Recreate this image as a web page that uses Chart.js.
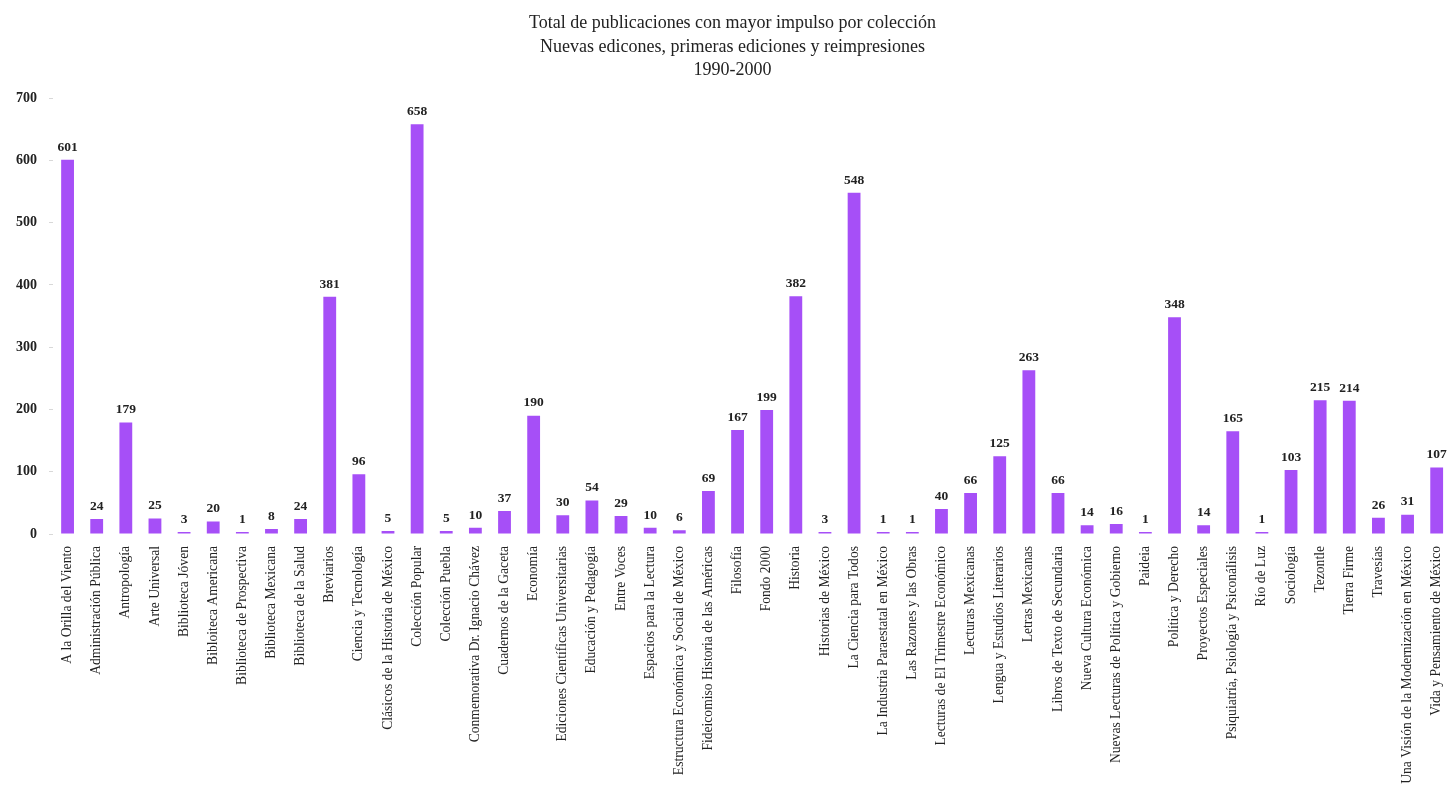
<!DOCTYPE html>
<html>
<head>
<meta charset="utf-8">
<script src="https://cdn.jsdelivr.net/npm/chart.js@4"></script>
<style>
  html, body { margin: 0; padding: 0; background: #fff; overflow: hidden; }
  #wrap { width: 1457px; height: 785px; position: relative; }
</style>
</head>
<body>
<div id="wrap"><canvas id="chart"></canvas></div>
<script>
const titleLines = [
  'Total de publicaciones con mayor impulso por colección',
  'Nuevas edicones, primeras ediciones y reimpresiones',
  '1990-2000'
];

const colecciones = [
  'A la Orilla del Viento', 'Administración Pública', 'Antropología', 'Arte Universal',
  'Biblioteca Jóven', 'Bibloiteca Americana', 'Biblioteca de Prospectiva', 'Biblioteca Mexicana',
  'Biblioteca de la Salud', 'Breviarios', 'Ciencia y Tecnología', 'Clásicos de la Historia de México',
  'Colección Popular', 'Colección Puebla', 'Conmemorativa Dr. Ignacio Chávez', 'Cuadernos de la Gaceta',
  'Economía', 'Ediciones Científicas Universitarias', 'Educación y Pedagogía', 'Entre Voces',
  'Espacios para la Lectura', 'Estructura Económica y Social de México', 'Fideicomiso Historia de las Américas', 'Filosofía',
  'Fondo 2000', 'Historia', 'Historias de México', 'La Ciencia para Todos',
  'La Industria Paraestatal en México', 'Las Razones y las Obras', 'Lecturas de El Trimestre Económico', 'Lecturas Mexicanas',
  'Lengua y Estudios Literarios', 'Letras Mexicanas', 'Libros de Texto de Secundaria', 'Nueva Cultura Económica',
  'Nuevas Lecturas de Política y Gobierno', 'Paideia', 'Política y Derecho', 'Proyectos Especiales',
  'Psiquiatría, Psiología y Psiconálisis', 'Río de Luz', 'Sociología', 'Tezontle',
  'Tierra Firme', 'Travesías', 'Una Visión de la Modernización en México', 'Vida y Pensamiento de México'
];

const publicaciones = [
  601, 24, 179, 25,
  3, 20, 1, 8,
  24, 381, 96, 5,
  658, 5, 10, 37,
  190, 30, 54, 29,
  10, 6, 69, 167,
  199, 382, 3, 548,
  1, 1, 40, 66,
  125, 263, 66, 14,
  16, 1, 348, 14,
  165, 1, 103, 215,
  214, 26, 31, 107
];

const yTicks = [0, 100, 200, 300, 400, 500, 600, 700];

const serif = "'Liberation Serif', 'DejaVu Serif', serif";
const barColor = '#a64ff7';

// numbers above each bar
const valueLabels = {
  id: 'valueLabels',
  afterDatasetsDraw(chart) {
    const ctx = chart.ctx;
    const meta = chart.getDatasetMeta(0);
    ctx.save();
    ctx.font = '600 13.5px ' + serif;
    ctx.fillStyle = '#222';
    ctx.textAlign = 'center';
    ctx.textBaseline = 'bottom';
    meta.data.forEach((bar, i) => {
      ctx.fillText(String(publicaciones[i]), bar.x, bar.y - 6);
    });
    ctx.restore();
  }
};

new Chart(document.getElementById('chart'), {
  type: 'bar',
  data: {
    labels: colecciones,
    datasets: [{
      data: publicaciones,
      backgroundColor: barColor,
      borderWidth: 0,
      barPercentage: 0.44,
      categoryPercentage: 1,
      minBarLength: 2
    }]
  },
  options: {
    responsive: true,
    maintainAspectRatio: false,
    animation: false,
    layout: { padding: { left: 8, right: 0, top: 0, bottom: 0 } },
    plugins: {
      legend: { display: false },
      tooltip: { enabled: false },
      title: {
        display: true,
        text: titleLines,
        color: '#222',
        font: { family: serif, size: 18, weight: 'normal', lineHeight: 1.3 },
        padding: { top: 12, bottom: 16 }
      }
    },
    scales: {
      x: {
        border: { display: false },
        grid: { display: false },
        ticks: {
          autoSkip: false,
          maxRotation: 90,
          minRotation: 90,
          padding: 4,
          color: '#222',
          font: { family: serif, size: 13.6 }
        },
        afterFit(scale) { scale.height = 251; }
      },
      y: {
        min: 0,
        max: 700,
        border: { display: false },
        grid: { drawOnChartArea: false, color: '#d8d8d8', tickLength: 4 },
        afterBuildTicks(scale) { scale.ticks = yTicks.map(v => ({ value: v })); },
        ticks: {
          padding: 12,
          color: '#222',
          font: { family: serif, size: 14, weight: '600' }
        },
        afterFit(scale) { scale.width = 45; }
      }
    }
  },
  plugins: [valueLabels]
});
</script>
</body>
</html>
